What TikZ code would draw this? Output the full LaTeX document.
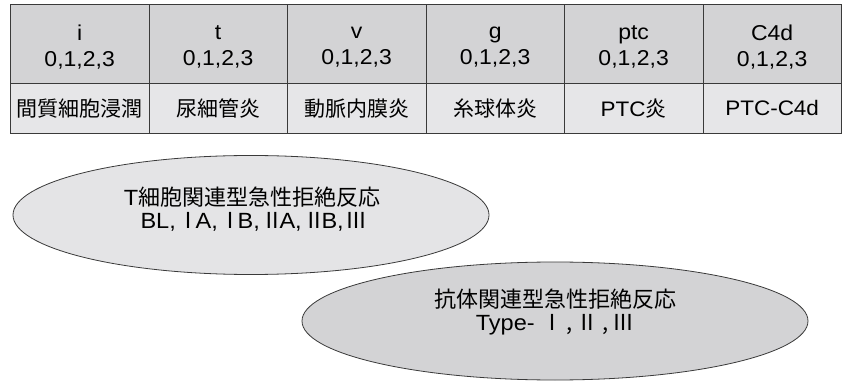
\documentclass[tikz,border=0pt]{standalone}
\usepackage{fontspec}
\setmainfont[FakeStretch=1.07]{Liberation Sans}
\newfontfamily\jp{Noto Sans CJK JP}
\newcommand\romnum[1]{\kern-0.2em{\jp #1}\kern-0.2em}
\usetikzlibrary{shapes.geometric}
\definecolor{headgray}{HTML}{D3D3D5}
\definecolor{bodygray}{HTML}{E6E6E8}
\definecolor{linegray}{HTML}{3A3A3A}
\definecolor{ellA}{HTML}{E4E4E6}
\definecolor{ellB}{HTML}{D3D3D5}
\begin{document}
\begin{tikzpicture}[x=1pt,y=-1pt,
  headcell/.style={draw=linegray, line width=0.8pt, fill=headgray, minimum width=138.5pt, minimum height=79pt, inner sep=0pt, align=center, font=\fontsize{21.5}{26}\selectfont, anchor=north west},
  bodycell/.style={draw=linegray, line width=0.8pt, fill=bodygray, minimum width=138.5pt, minimum height=50pt, inner sep=0pt, align=center, font=\fontsize{21}{26}\selectfont, anchor=north west},
  celltext/.style={align=center, inner sep=0pt, font=\fontsize{21.5}{26}\selectfont},
  ellshape/.style={ellipse, draw=linegray, line width=0.8pt, inner sep=0pt},
  elltext/.style={align=center, font=\fontsize{22}{23.5}\selectfont, inner sep=0pt}
]
\useasboundingbox (0,0) rectangle (846,382);
% table header
\node[headcell] (h1) at (10,4) {};
\node[headcell] (h2) at (148.5,4) {};
\node[headcell] (h3) at (287,4) {};
\node[headcell] (h4) at (425.5,4) {};
\node[headcell] (h5) at (564,4) {};
\node[headcell] (h6) at (702.5,4) {};
\node[celltext] (ht1) at ([yshift=-3pt]h1.center) {i\\0,1,2,3};
\node[celltext] (ht2) at ([yshift=-3pt]h2.center) {t\\0,1,2,3};
\node[celltext] (ht3) at ([yshift=-3pt]h3.center) {v\\0,1,2,3};
\node[celltext] (ht4) at ([yshift=-3pt]h4.center) {g\\0,1,2,3};
\node[celltext] (ht5) at ([yshift=-3pt]h5.center) {ptc\\0,1,2,3};
\node[celltext] (ht6) at ([yshift=-3pt]h6.center) {C4d\\0,1,2,3};
% table body
\node[bodycell] (b1) at (10,83) {\jp 間質細胞浸潤};
\node[bodycell] (b2) at (148.5,83) {\jp 尿細管炎};
\node[bodycell] (b3) at (287,83) {\jp 動脈内膜炎};
\node[bodycell] (b4) at (425.5,83) {\jp 糸球体炎};
\node[bodycell] (b5) at (564,83) {PTC{\jp 炎}};
\node[bodycell] (b6) at (702.5,83) {PTC-C4d};
% ellipses
\node[ellshape, fill=ellB, minimum width=506pt, minimum height=118pt] (e2) at (555,321) {};
\node[ellshape, fill=ellA, minimum width=476pt, minimum height=119pt] (e1) at (251,215) {};
\node[elltext] (t1) at (252,209) {T{\jp 細胞関連型急性拒絶反応}\\BL, \romnum{Ⅰ}A, \romnum{Ⅰ}B, \romnum{Ⅱ}A, \romnum{Ⅱ}B, \romnum{Ⅲ}};
\node[elltext] (t2) at (555,312) {{\jp 抗体関連型急性拒絶反応}\\Type- {\jp Ⅰ\,,\,Ⅱ\,,\,Ⅲ}};
\end{tikzpicture}
\end{document}
